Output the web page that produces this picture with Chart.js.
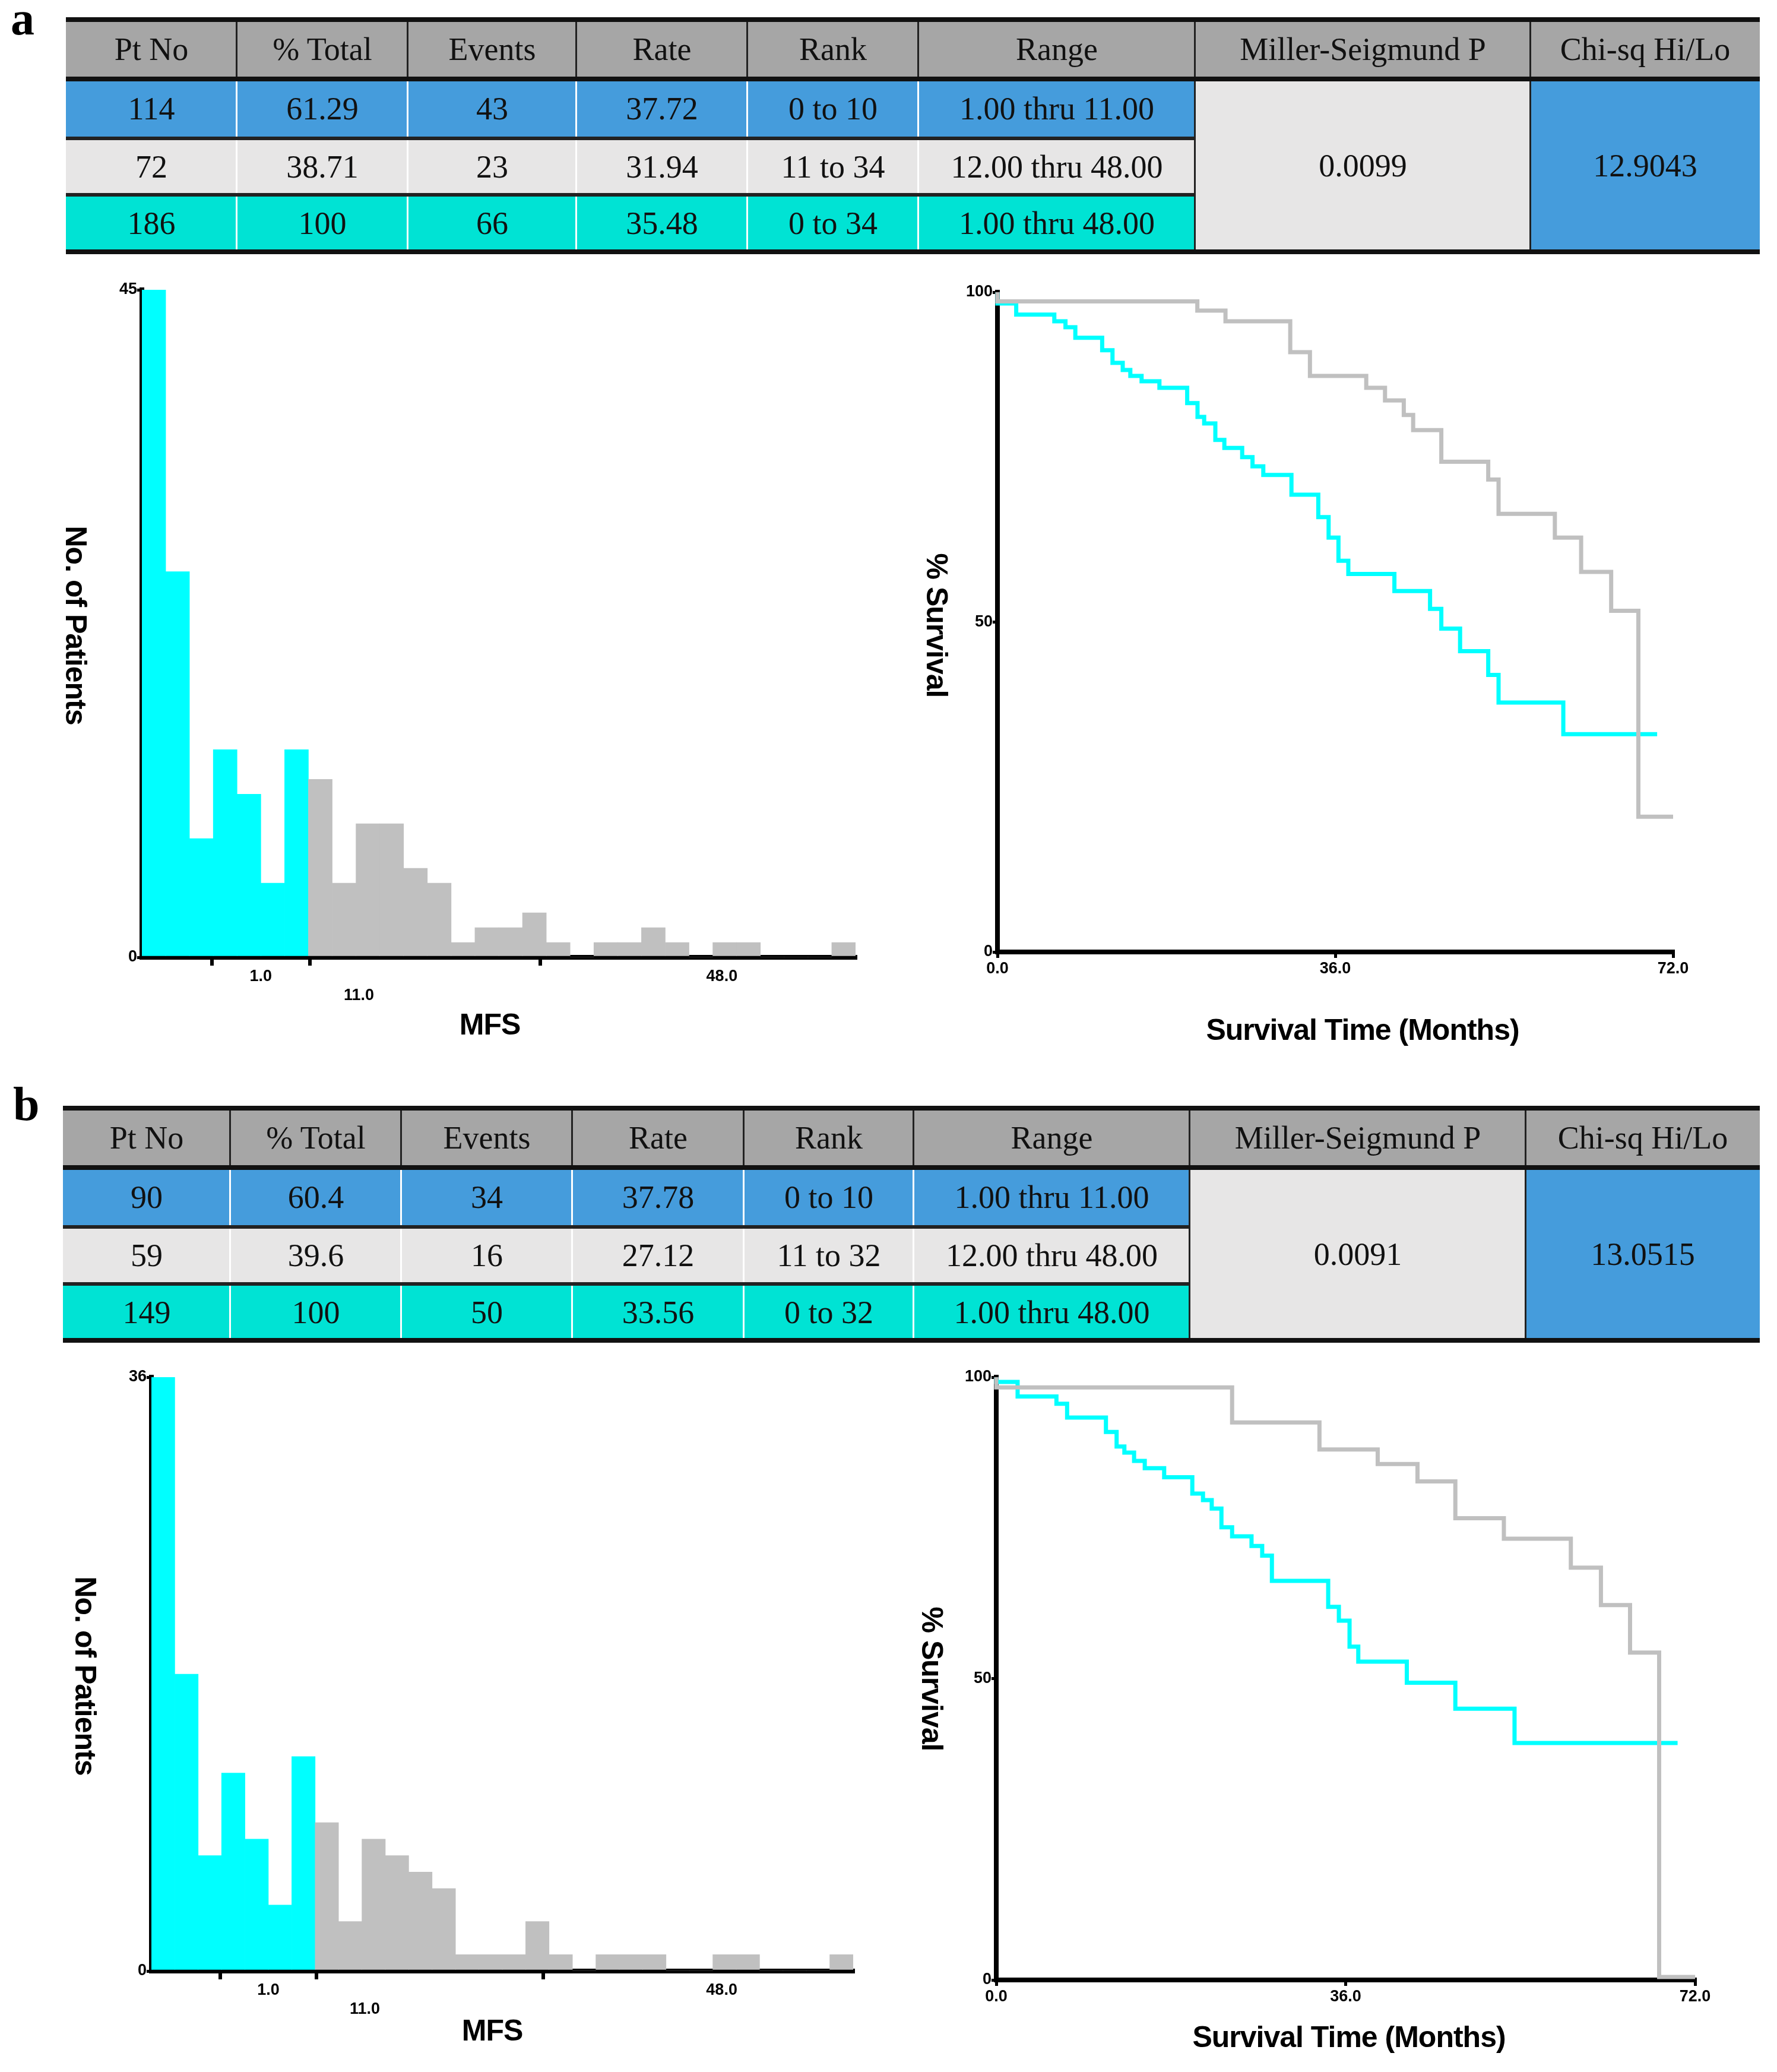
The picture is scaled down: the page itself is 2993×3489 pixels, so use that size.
<!DOCTYPE html>
<html><head><meta charset="utf-8">
<script src="https://cdn.jsdelivr.net/npm/chart.js@4.4.0/dist/chart.umd.min.js"></script>
<style>
body{margin:0;background:#fff;width:2993px;height:3489px;position:relative;overflow:hidden;font-family:"Liberation Sans",Arial,sans-serif}
.abs{position:absolute}
.cell{position:absolute;display:flex;align-items:center;justify-content:center;font-family:"Liberation Serif","Times New Roman",serif;font-size:54px;color:#111;white-space:nowrap}
.ttl{position:absolute;font-weight:bold;font-size:50px;letter-spacing:-1px;white-space:nowrap;transform:translate(-50%,-50%);color:#000}
.panel{position:absolute;font-family:"Liberation Serif",serif;font-weight:bold;font-size:80px}
</style></head><body>
<div class="panel" style="left:18px;top:-14px">a</div>
<div class="panel" style="left:22px;top:1814px">b</div>
<div id="tables"></div>
<div class="abs" style="left:179px;top:468px"><canvas id="hA" width="1292" height="1234"></canvas></div>
<div class="abs" style="left:1620px;top:472px"><canvas id="kA" width="1228" height="1221"></canvas></div>
<div class="abs" style="left:195px;top:2299px"><canvas id="hB" width="1272" height="1110"></canvas></div>
<div class="abs" style="left:1618px;top:2299px"><canvas id="kB" width="1267" height="1125"></canvas></div>
<div class="ttl" style="left:128px;top:1053px;transform:translate(-50%,-50%) rotate(90deg)">No. of Patients</div>
<div class="ttl" style="left:825px;top:1725px">MFS</div>
<div class="ttl" style="left:1578px;top:1053px;transform:translate(-50%,-50%) rotate(90deg)">% Survival</div>
<div class="ttl" style="left:2295px;top:1734px">Survival Time (Months)</div>
<div class="ttl" style="left:144px;top:2822px;transform:translate(-50%,-50%) rotate(90deg)">No. of Patients</div>
<div class="ttl" style="left:829px;top:3419px">MFS</div>
<div class="ttl" style="left:1570px;top:2827px;transform:translate(-50%,-50%) rotate(90deg)">% Survival</div>
<div class="ttl" style="left:2272px;top:3430px">Survival Time (Months)</div>
<script>
// ---------- DATA ----------
const tableHeaders = ["Pt No","% Total","Events","Rate","Rank","Range","Miller-Seigmund P","Chi-sq Hi/Lo"];
const tableA_rows = [
  ["114","61.29","43","37.72","0 to 10","1.00 thru 11.00"],
  ["72","38.71","23","31.94","11 to 34","12.00 thru 48.00"],
  ["186","100","66","35.48","0 to 34","1.00 thru 48.00"]];
const tableA_p = "0.0099", tableA_chi = "12.9043";
const tableB_rows = [
  ["90","60.4","34","37.78","0 to 10","1.00 thru 11.00"],
  ["59","39.6","16","27.12","11 to 32","12.00 thru 48.00"],
  ["149","100","50","33.56","0 to 32","1.00 thru 48.00"]];
const tableB_p = "0.0091", tableB_chi = "13.0515";

const histA_counts = [45,26,8,14,11,5,14,12,5,9,9,6,5,1,2,2,3,1,0,1,1,2,1,0,1,1,0,0,0,1];
const histB_counts = [36,18,7,12,8,4,13,9,3,8,7,6,5,1,1,1,3,1,0,1,1,1,0,0,1,1,0,0,0,1];
const histLowBins = 7;          // bins in the low (cyan) group
const histA_yMax = 45, histB_yMax = 36;
const histXTicks = [1, 11, 48];
const kmXTicks = [0, 36, 72], kmYTicks = [0, 50, 100];

const kmA_low_t = [0,2.0,6.06,7.25,8.3,11.16,12.26,13.35,14.16,15.36,17.26,20.22,21.32,22.03,23.22,24.18,26.08,27.18,28.33,31.33,34.19,35.29,36.34,37.39,42.3,46.1,47.3,49.3,52.3,53.4,60.3,64.2,70.3];
const kmA_low_s = [100,98.3,96.6,95.6,94.7,93.1,91.2,89.3,88.2,87.3,86.5,85.5,83.2,81.1,80.1,77.6,76.4,75.0,73.6,72.3,69.3,65.9,62.8,59.3,57.3,54.7,52.0,49.0,45.6,42.0,37.8,33.0,33.0];
const kmA_high_t = [0,21.3,24.3,31.2,33.3,39.3,41.3,43.3,44.3,47.3,52.3,53.4,59.4,62.2,65.4,68.3,72];
const kmA_high_s = [100,98.6,97.2,95.6,90.9,87.3,85.5,83.6,81.4,79.1,74.3,71.6,66.4,62.8,57.6,51.7,20.5];
const kmB_low_t = [0,2.2,6.2,7.3,11.3,12.4,13.2,14.2,15.3,17.3,20.2,21.3,22.2,23.2,24.3,26.3,27.4,28.4,34.2,35.3,36.4,37.3,42.3,47.3,53.4,60.2,70.2];
const kmB_low_s = [100,99.2,96.8,95.6,93.3,90.9,88.5,87.5,86.1,84.9,83.4,80.7,79.6,78.2,75.1,73.6,72.0,70.4,66.2,61.9,59.6,55.3,52.8,49.3,45.0,39.3,39.3];
const kmB_high_t = [0,24.3,33.3,39.3,43.4,47.3,52.3,59.2,62.3,65.3,68.3,72];
const kmB_high_s = [100,98.3,92.5,88.0,85.6,82.7,76.6,73.2,68.4,62.2,54.3,0.5];

// ---------- TABLES ----------
const CYAN="#00ffff", GREY="#c0c0c0";
const rowFills=["#459cdc","#e7e6e6","#00e3d4"];
function drawTable(xs, ys, rows, p, chi){
  const root=document.getElementById('tables');
  const add=(x,y,w,h,bg,txt,extra)=>{const d=document.createElement('div');d.className='cell';
    d.style.cssText+=`left:${x}px;top:${y}px;width:${w}px;height:${h}px;background:${bg};`+(extra||'');
    if(txt!==undefined)d.textContent=txt;root.appendChild(d);return d;};
  for(let c=0;c<8;c++) add(xs[c],ys[0],xs[c+1]-xs[c],ys[1]-ys[0],"#a6a6a6",tableHeaders[c]);
  for(let r=0;r<3;r++) for(let c=0;c<6;c++) add(xs[c],ys[r+1],xs[c+1]-xs[c],ys[r+2]-ys[r+1],rowFills[r],rows[r][c]);
  add(xs[6],ys[1],xs[7]-xs[6],ys[4]-ys[1],"#e7e6e6",p);
  add(xs[7],ys[1],xs[8]-xs[7],ys[4]-ys[1],"#459cdc",chi);
  // vertical separators
  for(let c=1;c<8;c++){ add(xs[c]-2,ys[0],3,ys[1]-ys[0],"#222"); add(xs[c]-2,ys[1],3,ys[4]-ys[1],c>=6?"#222":"#fff"); }
  // horizontal lines
  add(xs[0],ys[0]-4,xs[8]-xs[0],8,"#111");
  add(xs[0],ys[1]-4,xs[8]-xs[0],8,"#111");
  add(xs[0],ys[2]-3,xs[6]-xs[0],6,"#222");
  add(xs[0],ys[3]-3,xs[6]-xs[0],6,"#222");
  add(xs[0],ys[4]-4,xs[8]-xs[0],8,"#111");
}
drawTable([111,399,687,971,1259,1547,2013,2578,2964],[33,133,233,328,424],tableA_rows,tableA_p,tableA_chi);
drawTable([106,388,676,964,1253,1539,2004,2570,2964],[1866,1966,2066,2162,2257],tableB_rows,tableB_p,tableB_chi);

// ---------- CHARTS ----------
Chart.defaults.animation=false;
Chart.defaults.font.family='"Liberation Sans", Arial, sans-serif';
Chart.defaults.font.weight='bold';
Chart.defaults.font.size=27;
Chart.defaults.color='#000';
const fixW=s=>{s.width=60;}, fixH=s=>{s.height=90;};
const tickFmt=v=>v.toFixed(1);
const legendOff={legend:{display:false},tooltip:{enabled:false}};

function hist(id, counts, yMax){
  const n=counts.length;
  new Chart(document.getElementById(id),{type:'bar',
    data:{labels:counts.map((_,i)=>i),datasets:[{data:counts,
      backgroundColor:counts.map((_,i)=>i<histLowBins?CYAN:GREY),barPercentage:1,categoryPercentage:1,borderWidth:0}]},
    options:{responsive:false,devicePixelRatio:1,layout:{padding:{top:20,right:30}},plugins:legendOff,
      scales:{
        x:{display:false,offset:true},
        x2:{type:'linear',position:'bottom',min:1,max:49.5,afterFit:fixH,
          afterBuildTicks:s=>{s.ticks=histXTicks.map(v=>({value:v}));},
          border:{color:'#000',width:8},grid:{drawOnChartArea:false,color:'#000',lineWidth:6,tickLength:14},
          ticks:{maxRotation:0,autoSkip:false,padding:2,callback:v=>v===11?['',tickFmt(v)]:tickFmt(v)}},
        y:{min:0,max:yMax,afterFit:fixW,afterBuildTicks:s=>{s.ticks=[{value:0},{value:yMax}];},
          border:{color:'#000',width:8},grid:{drawOnChartArea:false,color:'#000',lineWidth:5,tickLength:8},
          ticks:{padding:0}}
      }}});
}
hist('hA',histA_counts,histA_yMax);
hist('hB',histB_counts,histB_yMax);

function km(id, lt, ls, ht, hs){
  const pts=(t,s)=>t.map((x,i)=>({x,y:s[i]}));
  new Chart(document.getElementById(id),{type:'line',
    data:{datasets:[
      {data:pts(ht,hs),borderColor:GREY,borderWidth:7,stepped:'after',pointRadius:0,clip:false,fill:false},
      {data:pts(lt,ls),borderColor:CYAN,borderWidth:7,stepped:'after',pointRadius:0,clip:false,fill:false}]},
    options:{responsive:false,devicePixelRatio:1,layout:{padding:{top:20,right:30}},plugins:legendOff,
      scales:{
        x:{type:'linear',min:0,max:72,afterFit:fixH,afterBuildTicks:s=>{s.ticks=kmXTicks.map(v=>({value:v}));},
          border:{color:'#000',width:8},grid:{drawOnChartArea:false,color:'#000',lineWidth:5,tickLength:10},
          ticks:{maxRotation:0,autoSkip:false,padding:2,callback:tickFmt}},
        y:{min:0,max:100,afterFit:fixW,afterBuildTicks:s=>{s.ticks=kmYTicks.map(v=>({value:v}));},
          border:{color:'#000',width:8},grid:{drawOnChartArea:false,color:'#000',lineWidth:5,tickLength:8},
          ticks:{padding:0}}
      }}});
}
km('kA',kmA_low_t,kmA_low_s,kmA_high_t,kmA_high_s);
km('kB',kmB_low_t,kmB_low_s,kmB_high_t,kmB_high_s);
</script></body></html>
